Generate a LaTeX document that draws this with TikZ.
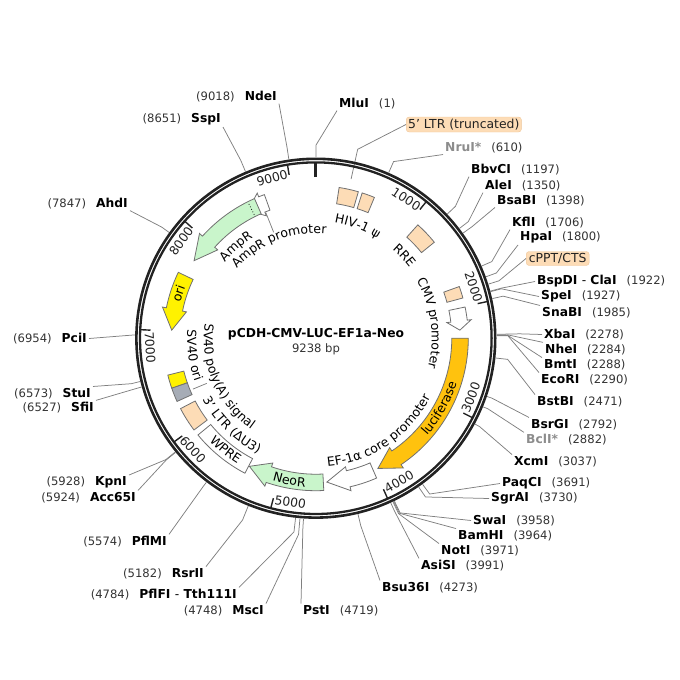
\documentclass[tikz,border=0pt]{standalone}
\usepackage{fontspec}
\setmainfont[Ligatures=ResetAll]{DejaVu Sans}
\usetikzlibrary{calc,decorations.text}

\definecolor{ringcol}{HTML}{222222}
\definecolor{leadcol}{HTML}{808080}
\definecolor{edgecol}{HTML}{707070}
\definecolor{peach}{HTML}{FDDCB6}
\definecolor{ampgreen}{HTML}{C9F5CB}
\definecolor{oriyellow}{HTML}{FFF200}
\definecolor{lucorange}{HTML}{FFC20E}
\definecolor{termgray}{HTML}{A6ACB6}
\definecolor{fadename}{HTML}{8C8C8C}
\definecolor{numcol}{HTML}{333333}

\newcommand{\bname}{\fontsize{12.3}{14}\selectfont\bfseries}
\newcommand{\plainlbl}{\fontsize{12.5}{14}\selectfont}
\newcommand{\fade}[1]{\textcolor{fadename}{#1}}
% band running from angle #2 to angle #3, measured clockwise from the top
\newcommand{\featbox}[3]{\draw[feat,fill=#1] ({#2-90}:152.5) arc ({#2-90}:{#3-90}:152.5) -- ({#3-90}:136) arc ({#3-90}:{#2-90}:136) -- cycle;}
% tail angle #2, head base angle #3, tip angle #4
\newcommand{\featarrow}[4]{\draw[feat,fill=#1] ({#2-90}:152.5) arc ({#2-90}:{#3-90}:152.5) -- ({#3-90}:156.5) -- ({#4-90}:144.3) -- ({#3-90}:132) -- ({#3-90}:136) arc ({#3-90}:{#2-90}:136) -- cycle;}
% text on a circle: centre angle #1, baseline radius #2
\newcommand{\cwtext}[3]{\path[decorate,decoration={text along path,text align=center,text={|\plainlbl|#3}}] ({#1-160}:#2) arc ({#1-160}:{#1-20}:#2);}
\newcommand{\ccwtext}[3]{\path[decorate,decoration={text along path,text align=center,text={|\plainlbl|#3}}] ({#1-20}:#2) arc ({#1-20}:{#1-160}:#2);}

\tikzset{
  leader/.style={draw=leadcol,line width=.75pt},
  ringline/.style={draw=ringcol},
  feat/.style={draw=edgecol,line width=.8pt},
  sitelbl/.style={inner xsep=2pt,inner ysep=1.5pt,text=numcol,font=\fontsize{11.6}{14}\selectfont},
  tagbox/.style={draw=peach!75!brown,fill=peach,rounded corners=3pt,inner xsep=2pt,inner ysep=1pt,font=\fontsize{12.4}{14}\selectfont,text=ringcol},
  ticklbl/.style={text=ringcol,inner sep=0pt,font=\fontsize{12.4}{14}\selectfont},
}

\begin{document}
\begin{tikzpicture}[x=1pt,y=-1pt]
  \useasboundingbox (0,0) rectangle (680,680);
  \coordinate (O) at (315.8,338.2);

  % sites labelled to the right of their leader
  \foreach \p/\n/\m/\px/\py/\e/\re in {
    1/MluI/1/339/102/south west/193,
    610/\fade{NruI*}/610/445/146/south west/193,
    1197/BbvCI/1197/471/168/south west/192,
    1350/AleI/1350/485/184/south west/192,
    1398/BsaBI/1398/497/199/south west/192,
    1706/KflI/1706/512/221/south west/192,
    1800/HpaI/1800/520/236/south west/192,
    1922/{BspDI \textmd{-} ClaI}/1922/537/280/west/192,
    1927/SpeI/1927/541/295/west/192,
    1985/SnaBI/1985/542/311/north west/192,
    2278/XbaI/2278/544/333/west/204,
    2284/NheI/2284/545/348/north west/192,
    2288/BmtI/2288/544/363/north west/192,
    2290/EcoRI/2290/541/378/north west/192,
    2471/BstBI/2471/537/400/north west/193,
    2792/BsrGI/2792/531/423/north west/186,
    2882/\fade{BclI*}/2882/526/438/north west/186,
    3037/XcmI/3037/514/460/north west/186,
    3691/PaqCI/3691/502/482/west/193,
    3730/SgrAI/3730/491/497/west/193,
    3958/SwaI/3958/473/519/west/194,
    3964/BamHI/3964/458/534/north west/194,
    3971/NotI/3971/441/549/north west/194,
    3991/AsiSI/3991/421/564/north west/190,
    4273/Bsu36I/4273/382/586/north west/193,
    4719/PstI/4719/303/609/north west/190}{
    \pgfmathsetmacro\a{\p/9238*360-90}
    \node[sitelbl,anchor=west] (s\p) at (\px-2,\py+1.5) {{\bname\textcolor{black}{\n}}\hspace{10pt}(\m)};
    \coordinate (r\p) at ($(O)+(\a:181)$);
    \coordinate (b\p) at ($(O)+(\a:\re)$);
    \draw[leader] (r\p) -- (b\p) -- (s\p.\e);
  }
  % sites labelled to the left of their leader
  \foreach \p/\n/\m/\px/\py/\e/\re in {
    4748/MscI/4748/264/609/north east/197,
    4784/{PflFI \textmd{-} Tth111I}/4784/237/593/north east/195,
    5182/RsrII/5182/204/572/north east/196,
    5574/PflMI/5574/167/540/north east/186,
    5924/Acc65I/5924/136/496/north east/193,
    5928/KpnI/5928/127/481/north east/193,
    6527/SfiI/6527/94/406/north east/186,
    6573/StuI/6573/91/392/north east/190,
    6954/PciI/6954/87/337/east/183,
    7847/AhdI/7847/128/202/south east/190,
    8651/SspI/8651/221/118/south east/193,
    9018/NdeI/9018/277/95/south east/193}{
    \pgfmathsetmacro\a{\p/9238*360-90}
    \node[sitelbl,anchor=east] (s\p) at (\px+2,\py+1.5) {(\m)\hspace{10pt}{\bname\textcolor{black}{\n}}};
    \coordinate (r\p) at ($(O)+(\a:181)$);
    \coordinate (b\p) at ($(O)+(\a:\re)$);
    \draw[leader] (r\p) -- (b\p) -- (s\p.\e);
  }

  % tagged features outside the ring
  \node[tagbox,minimum width=115pt,minimum height=15pt,anchor=west] (ltr) at (406,124.5) {5' LTR (truncated)};
  \node[tagbox,minimum width=63pt,minimum height=14pt,anchor=west] (cppt) at (526,258.5) {cPPT/CTS};
  \coordinate (ltrfoot) at ($(O)+(-77.5:163)$);
  \coordinate (ltrbend) at ($(O)+(-77.5:193.5)$);
  \draw[leader] (ltrfoot) -- (ltrbend) -- (ltr.west);
  \coordinate (cpptfoot) at ($(O)+(-17.4:181)$);
  \coordinate (cpptbend) at ($(O)+(-17.4:192)$);
  \draw[leader] (cpptfoot) -- (cpptbend) -- (cppt.west);

  % backbone
  \draw[ringline,line width=2.6pt] (O) circle (179.4);
  \draw[ringline,line width=2.3pt] (O) circle (175.8);

  \begin{scope}[shift={(O)}]
    % ticks
    \draw[ringline,line width=2.7pt] (-90:161) -- (-90:176);
    \foreach \k in {1000,2000,...,9000}{
      \pgfmathsetmacro\a{\k/9238*360-90}
      \pgfmathsetmacro\t{\a+84}
      \pgfmathsetmacro\w{(\t>90 && \t<270) ? 180-\t : -\t}
      \draw[ringline,line width=1.4pt] (\a:165.5) -- (\a:176);
      \node[ticklbl,rotate=\w] (t\k) at (\t-90:166) {\k};
    }

    % leaders of the two inner labels
    \draw[leader] (-111.7:135) -- (-111.7:114);
    \draw[leader] (157.5:133) -- (157.5:118);

    % features
    \featbox{peach}{8.8}{16.2}
    \featbox{peach}{17.7}{22.6}
    \featbox{peach}{42}{51}
    \featbox{peach}{70.2}{74.7}
    \featbox{peach}{233}{242.5}
    \featbox{termgray}{245.5}{250.9}
    \featbox{oriyellow}{250.9}{256}
    \featbox{white}{207.7}{230.6}
    \featarrow{white}{78.2}{83.2}{86.8}
    \featarrow{lucorange}{90}{146}{154.5}
    \featarrow{white}{156.5}{167}{175.6}
    \featarrow{ampgreen}{177}{199}{207.4}
    \featarrow{oriyellow}{295.6}{281.5}{273.2}
    \featarrow{white}{340.3}{338}{332}
    \featarrow{ampgreen}{336.3}{312}{302.5}
    \draw[black,line width=.8pt,dotted] (243.5:150) -- (243.5:137);

    % feature names
    \cwtext{20.5}{117}{HIV-1 ψ}
    \cwtext{47}{117}{RRE}
    \cwtext{82.5}{116}{CMV promoter}
    \cwtext{-21.5}{105}{AmpR promoter}
    \cwtext{-41}{118.5}{AmpR}
    \cwtext{288}{140}{ori}
    \ccwtext{119.4}{148}{luciferase}
    \ccwtext{146}{129}{EF-1α core promoter}
    \ccwtext{190.5}{149}{NeoR}
    \ccwtext{219}{148}{WPRE}
    \ccwtext{224}{129}{3' LTR (ΔU3)}
    \ccwtext{262}{128.5}{SV40 ori}
    \ccwtext{246.5}{112}{SV40 poly(A) signal}
  \end{scope}

  % plasmid title
  \node[inner sep=0pt,font=\bname] (title) at (316,334.5) {pCDH-CMV-LUC-EF1a-Neo};
  \node[inner sep=0pt,text=numcol,font=\fontsize{11.6}{14}\selectfont] (size) at (316,349) {9238 bp};
\end{tikzpicture}
\end{document}
